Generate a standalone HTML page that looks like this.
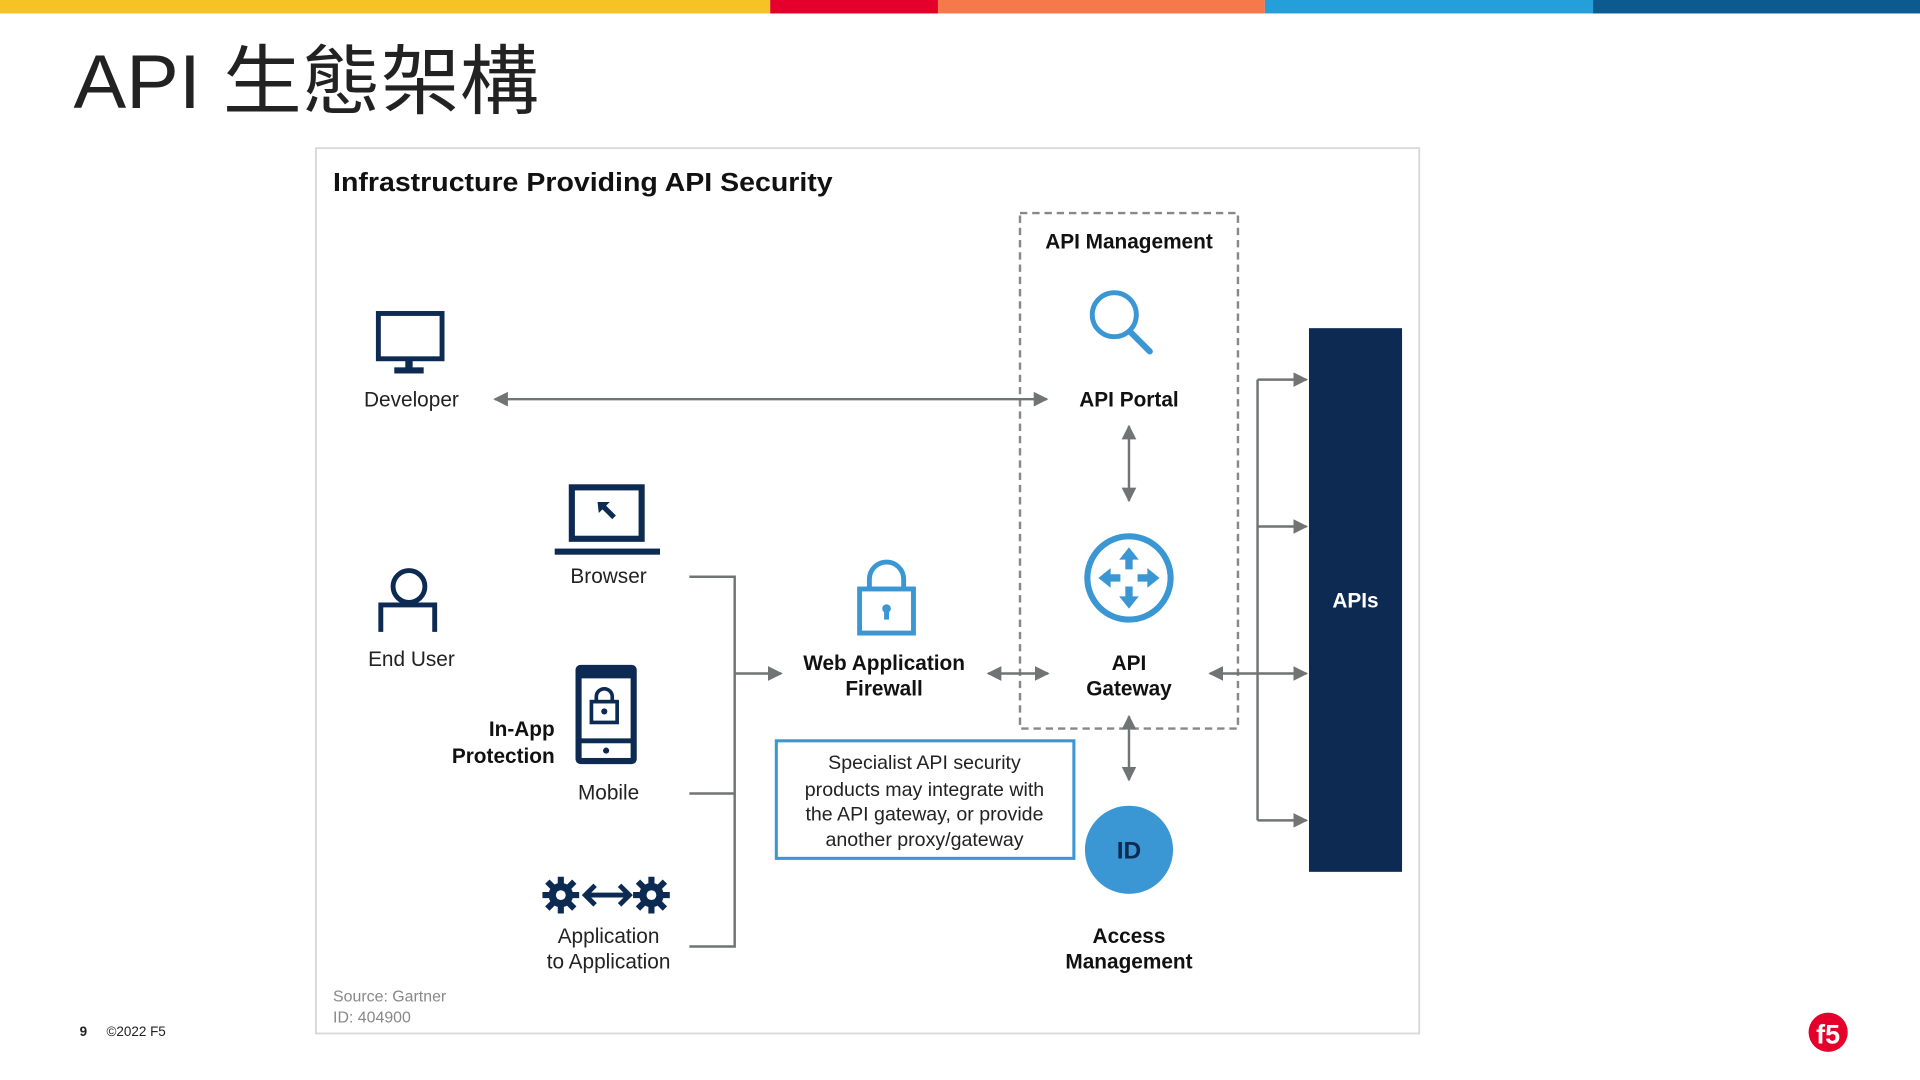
<!DOCTYPE html>
<html><head><meta charset="utf-8"><style>
html,body{margin:0;padding:0;background:#fff;overflow:hidden}
svg{display:block}
text{font-family:"Liberation Sans","Noto Sans CJK TC",sans-serif}
</style></head><body>
<svg width="1920" height="1080" viewBox="0 0 1568 882" xmlns="http://www.w3.org/2000/svg">
<defs>
<marker id="ah" viewBox="0 0 10 10" refX="9" refY="5" markerWidth="12" markerHeight="12" markerUnits="userSpaceOnUse" orient="auto-start-reverse"><path d="M0,0L10,5L0,10z" fill="#707474"/></marker>
</defs>
<rect x="0" y="0" width="629" height="11" fill="#f6c327"/>
<rect x="629" y="0" width="137" height="11" fill="#e4002b"/>
<rect x="766" y="0" width="267" height="11" fill="#f5794b"/>
<rect x="1033" y="0" width="268" height="11" fill="#249fd9"/>
<rect x="1301" y="0" width="267" height="11" fill="#0c5a8e"/>
<text x="60" y="88" font-size="62" fill="#222" textLength="380" lengthAdjust="spacingAndGlyphs">API 生態架構</text>

<rect x="258" y="121" width="901" height="723" fill="#fff" stroke="#d8d8d8" stroke-width="1.5"/>
<text x="272" y="156" font-size="21" font-weight="bold" fill="#111" textLength="408" lengthAdjust="spacingAndGlyphs">Infrastructure Providing API Security</text>

<rect x="833" y="174" width="178" height="421" fill="none" stroke="#888" stroke-width="2" stroke-dasharray="6,4"/>
<text x="922" y="203" font-size="17" font-weight="bold" text-anchor="middle" fill="#111">API Management</text>

<rect x="309" y="256" width="52" height="37" fill="none" stroke="#0d2a52" stroke-width="4"/>
<rect x="331" y="293" width="6" height="8" fill="#0d2a52"/>
<rect x="322" y="300" width="24" height="5" fill="#0d2a52"/>
<text x="336" y="332" font-size="17" text-anchor="middle" fill="#222">Developer</text>

<line x1="404" y1="326" x2="855" y2="326" stroke="#707474" stroke-width="2" marker-start="url(#ah)" marker-end="url(#ah)"/>

<circle cx="910" cy="257" r="18" fill="none" stroke="#3a97d4" stroke-width="4"/>
<line x1="923" y1="271" x2="939" y2="287" stroke="#3a97d4" stroke-width="5" stroke-linecap="round"/>
<text x="922" y="332" font-size="17" font-weight="bold" text-anchor="middle" fill="#111">API Portal</text>
<line x1="922" y1="348" x2="922" y2="409" stroke="#707474" stroke-width="2" marker-start="url(#ah)" marker-end="url(#ah)"/>

<circle cx="922" cy="472" r="34" fill="none" stroke="#3a97d4" stroke-width="5"/>
<g fill="#3a97d4">
<path d="M922,447 l-8,10 h5 v8 h6 v-8 h5z"/>
<path d="M922,497 l-8,-10 h5 v-8 h6 v8 h5z"/>
<path d="M897,472 l10,-8 v5 h8 v6 h-8 v5z"/>
<path d="M947,472 l-10,-8 v5 h-8 v6 h8 v5z"/>
</g>
<text x="922" y="547" font-size="17" font-weight="bold" text-anchor="middle" fill="#111">API</text>
<text x="922" y="568" font-size="17" font-weight="bold" text-anchor="middle" fill="#111">Gateway</text>
<line x1="922" y1="585" x2="922" y2="637" stroke="#707474" stroke-width="2" marker-start="url(#ah)" marker-end="url(#ah)"/>

<circle cx="922" cy="694" r="36" fill="#3a97d4"/>
<text x="922" y="701" font-size="20" font-weight="bold" text-anchor="middle" fill="#0d2a52">ID</text>
<text x="922" y="770" font-size="17" font-weight="bold" text-anchor="middle" fill="#111">Access</text>
<text x="922" y="791" font-size="17" font-weight="bold" text-anchor="middle" fill="#111">Management</text>

<rect x="1069" y="268" width="76" height="444" fill="#0d2a52"/>
<text x="1107" y="496" font-size="17" font-weight="bold" text-anchor="middle" fill="#fff">APIs</text>
<line x1="1027" y1="310" x2="1027" y2="670" stroke="#707474" stroke-width="2"/>
<line x1="1027" y1="310" x2="1067" y2="310" stroke="#707474" stroke-width="2" marker-end="url(#ah)"/>
<line x1="1027" y1="430" x2="1067" y2="430" stroke="#707474" stroke-width="2" marker-end="url(#ah)"/>
<line x1="1027" y1="670" x2="1067" y2="670" stroke="#707474" stroke-width="2" marker-end="url(#ah)"/>
<line x1="988" y1="550" x2="1067" y2="550" stroke="#707474" stroke-width="2" marker-start="url(#ah)" marker-end="url(#ah)"/>

<circle cx="334" cy="479" r="13" fill="none" stroke="#0d2a52" stroke-width="4"/>
<path d="M311,516 V494 H355 V516" fill="none" stroke="#0d2a52" stroke-width="4"/>
<text x="336" y="544" font-size="17" text-anchor="middle" fill="#222">End User</text>

<rect x="467" y="398" width="57" height="42" fill="none" stroke="#0d2a52" stroke-width="5"/>
<path d="M488,410 h10 l-3,3 l8,8 l-3,3 l-8,-8 l-3,3z" fill="#0d2a52"/>
<rect x="453" y="448" width="86" height="5" fill="#0d2a52"/>
<text x="497" y="476" font-size="17" text-anchor="middle" fill="#222">Browser</text>

<rect x="470" y="543" width="50" height="81" rx="4" fill="#0d2a52"/>
<rect x="475" y="554" width="40" height="49" fill="#fff"/>
<rect x="475" y="607" width="40" height="12" fill="#fff"/>
<circle cx="495" cy="613" r="2.5" fill="#0d2a52"/>
<rect x="483" y="573" width="21" height="17" fill="none" stroke="#0d2a52" stroke-width="3"/>
<path d="M487,573 v-4 a6.5,6.5 0 0 1 13,0 v4" fill="none" stroke="#0d2a52" stroke-width="3"/>
<circle cx="493.5" cy="581" r="2.5" fill="#0d2a52"/>
<text x="497" y="653" font-size="17" text-anchor="middle" fill="#222">Mobile</text>
<text x="453" y="601" font-size="17" font-weight="bold" text-anchor="end" fill="#111">In-App</text>
<text x="453" y="623" font-size="17" font-weight="bold" text-anchor="end" fill="#111">Protection</text>

<g fill="#0d2a52">
<circle cx="458" cy="731" r="10"/><circle cx="532" cy="731" r="10"/>
<g stroke="#0d2a52" stroke-width="5">
<path d="M458,716v30M443,731h30M447,720l22,22M469,720l-22,22"/>
<path d="M532,716v30M517,731h30M521,720l22,22M543,720l-22,22"/>
</g>
<circle cx="458" cy="731" r="4" fill="#fff"/><circle cx="532" cy="731" r="4" fill="#fff"/>
</g>
<path d="M478,731h36M486,723l-8,8l8,8M506,723l8,8l-8,8" fill="none" stroke="#0d2a52" stroke-width="4"/>
<text x="497" y="770" font-size="17" text-anchor="middle" fill="#222">Application</text>
<text x="497" y="791" font-size="17" text-anchor="middle" fill="#222">to Application</text>

<path d="M563,471 H600 V773 H563 M563,648 H600" fill="none" stroke="#707474" stroke-width="2"/>
<line x1="600" y1="550" x2="638" y2="550" stroke="#707474" stroke-width="2" marker-end="url(#ah)"/>

<rect x="702" y="481" width="44" height="36" fill="none" stroke="#3a97d4" stroke-width="4"/>
<path d="M710,481 v-8 a14,14 0 0 1 28,0 v8" fill="none" stroke="#3a97d4" stroke-width="4"/>
<circle cx="724" cy="497" r="3.5" fill="#3a97d4"/><rect x="722" y="498" width="4" height="8" fill="#3a97d4"/>
<text x="722" y="547" font-size="17" font-weight="bold" text-anchor="middle" fill="#111">Web Application</text>
<text x="722" y="568" font-size="17" font-weight="bold" text-anchor="middle" fill="#111">Firewall</text>
<line x1="807" y1="550" x2="856" y2="550" stroke="#707474" stroke-width="2" marker-start="url(#ah)" marker-end="url(#ah)"/>

<rect x="634" y="605" width="243" height="96" fill="#fff" stroke="#3a97d4" stroke-width="2.5"/>
<g font-size="16" text-anchor="middle" fill="#222">
<text x="755" y="628">Specialist API security</text>
<text x="755" y="650">products may integrate with</text>
<text x="755" y="670">the API gateway, or provide</text>
<text x="755" y="691">another proxy/gateway</text>
</g>

<text x="272" y="818" font-size="13" fill="#888">Source: Gartner</text>
<text x="272" y="835" font-size="13" fill="#888">ID: 404900</text>

<text x="65" y="846" font-size="11" font-weight="bold" fill="#222">9</text>
<text x="87" y="846" font-size="11" fill="#222">©2022 F5</text>

<circle cx="1493" cy="843" r="16" fill="#e4002b"/>
<text x="1493" y="852" font-size="22" font-weight="bold" font-family="Liberation Serif" text-anchor="middle" fill="#fff">f5</text>
</svg>
</body></html>
